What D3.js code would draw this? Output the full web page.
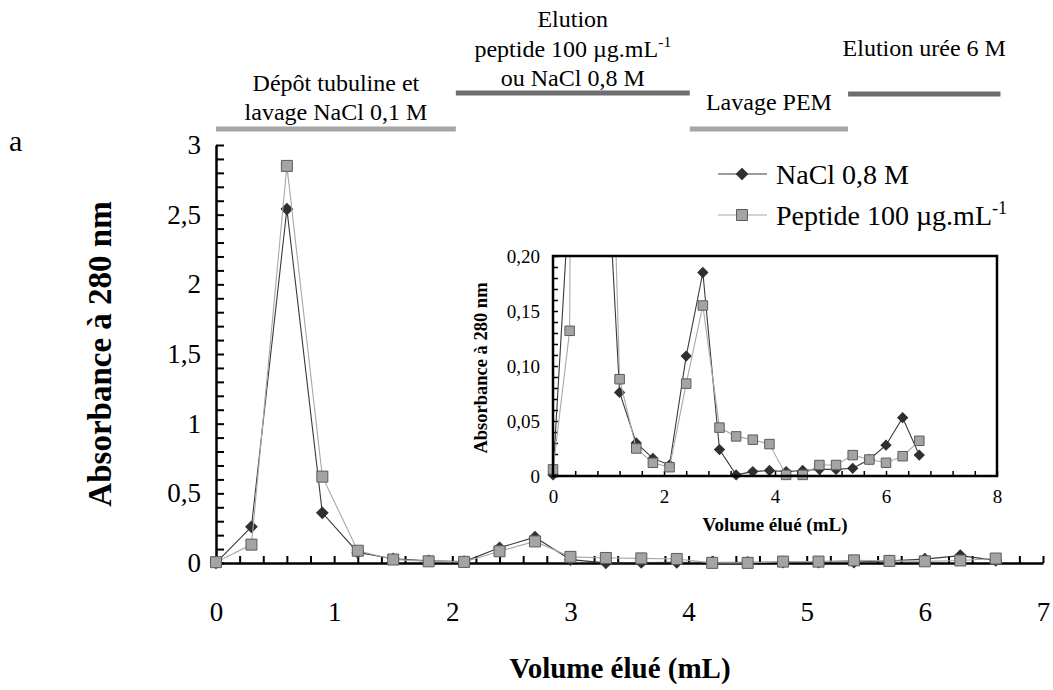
<!DOCTYPE html>
<html>
<head>
<meta charset="utf-8">
<script src="https://cdn.jsdelivr.net/npm/d3@7"></script>
<style>
  body { margin: 0; background: #fff; }
  text { font-family: "Liberation Serif", "Times New Roman", serif; fill: #000; }
</style>
</head>
<body>
<div id="chart"></div>
<script>
// Eluted volume of each fraction (mL)
const volumes = [0, 0.3, 0.6, 0.9, 1.2, 1.5, 1.8, 2.1, 2.4, 2.7, 3.0, 3.3,
  3.6, 3.9, 4.2, 4.5, 4.8, 5.1, 5.4, 5.7, 6.0, 6.3, 6.6];

// Absorbance at 280 nm for each fraction
const naclValues = [0.001, 0.26, 2.54, 0.36, 0.076, 0.030, 0.016, 0.010, 0.109,
  0.185, 0.024, 0.001, 0.004, 0.005, 0.004, 0.005, 0.006, 0.006, 0.007, 0.015,
  0.028, 0.053, 0.019];
const peptideValues = [0.006, 0.132, 2.85, 0.62, 0.088, 0.025, 0.012, 0.008,
  0.084, 0.155, 0.044, 0.036, 0.033, 0.029, 0.001, 0.001, 0.010, 0.010, 0.019,
  0.015, 0.012, 0.018, 0.032];

const seriesNames = ["NaCl 0,8 M", "Peptide 100 µg.mL^-1"];

// Axis tick labels
const mainXTicks = [0, 1, 2, 3, 4, 5, 6, 7];
const mainYTicks = [0, 0.5, 1, 1.5, 2, 2.5, 3];
const insetXTicks = [0, 2, 4, 6, 8];
const insetYTicks = [0, 0.05, 0.1, 0.15, 0.2];

// Protocol phases along the volume axis (mL) and their captions
const phaseBounds = [[0, 2.03], [2.03, 4.01], [4.01, 5.35], [5.35, 6.64]];
const phaseLabels = [
  ["Dépôt tubuline et", "lavage NaCl 0,1 M"],
  ["Elution", "peptide 100 µg.mL^-1", "ou NaCl 0,8 M"],
  ["Lavage PEM"],
  ["Elution urée 6 M"]
];

drawChart();

function drawChart() {
  let width = 1053, height = 690;
  let fontFamily = '"Liberation Serif", "Times New Roman", serif';

  let svg = d3
    .select("#chart")
    .append("svg")
    .attr("width", width)
    .attr("height", height);

  // Rows of data
  let nacl = volumes.map((v, i) => ({ x: v, y: naclValues[i] }));
  let peptide = volumes.map((v, i) => ({ x: v, y: peptideValues[i] }));

  // Writes a label, "^" starts a superscript
  function addText(sel, str, size) {
    let parts = str.split("^");
    sel.append("tspan").text(parts[0]);
    if (parts.length > 1) {
      sel
        .append("tspan")
        .attr("dy", -size * 0.38)
        .style("font-size", size * 0.65 + "px")
        .text(parts[1]);
    }
    return sel;
  }

  // ---------- main chart ----------
  let x = d3.scaleLinear().domain([0, 7]).range([216, 1043]);
  let y = d3.scaleLinear().domain([0, 3]).range([563, 145]);

  let xAxis = svg
    .append("g")
    .attr("transform", "translate(0," + y(0) + ")")
    .call(
      d3
        .axisBottom(x)
        .tickValues(d3.range(0, 36).map((i) => i / 5))
        .tickSize(-7)
        .tickSizeOuter(0)
        .tickPadding(39)
        .tickFormat((d) => (mainXTicks.includes(d) ? d : ""))
    );
  xAxis.select(".domain").attr("stroke-width", 2.5);
  xAxis.selectAll(".tick line").attr("stroke-width", 2);
  xAxis.selectAll("text").style("font-size", "27px").style("font-family", fontFamily);

  let yAxis = svg
    .append("g")
    .attr("transform", "translate(" + x(0) + ",0)")
    .call(
      d3
        .axisLeft(y)
        .tickValues(d3.range(0, 31).map((i) => i / 10))
        .tickSize(-8)
        .tickSizeOuter(0)
        .tickPadding(15)
        .tickFormat((d) =>
          mainYTicks.includes(d) ? String(d).replace(".", ",") : ""
        )
    );
  yAxis.select(".domain").attr("stroke-width", 2.5);
  yAxis.selectAll(".tick line").attr("stroke-width", 2);
  yAxis.selectAll("text").style("font-size", "27px").style("font-family", fontFamily);

  // Axis titles
  svg
    .append("text")
    .attr("x", 620)
    .attr("y", 678)
    .attr("text-anchor", "middle")
    .style("font-size", "29px")
    .style("font-weight", "bold")
    .text("Volume élué (mL)");

  svg
    .append("text")
    .attr("transform", "translate(111,354) rotate(-90)")
    .attr("text-anchor", "middle")
    .style("font-size", "33px")
    .style("font-weight", "bold")
    .text("Absorbance à 280 nm");

  svg
    .append("text")
    .attr("x", 9)
    .attr("y", 151)
    .style("font-size", "30px")
    .text("a");

  // Series lines and markers
  function drawSeries(g, data, sx, sy, kind, size) {
    let line = d3
      .line()
      .x((d) => sx(d.x))
      .y((d) => sy(d.y));
    g.append("path")
      .datum(data)
      .attr("fill", "none")
      .attr("stroke", kind == "diamond" ? "#3a3a3a" : "#a8a8a8")
      .attr("stroke-width", 1.1)
      .attr("d", line);
    let symbol = d3.symbol().type(d3.symbolSquare).size(size * size);
    g.selectAll("mark")
      .data(data)
      .enter()
      .append("path")
      .attr("d", symbol)
      .attr("transform", (d) =>
        "translate(" + sx(d.x) + "," + sy(d.y) + ")" + (kind == "diamond" ? " rotate(45)" : "")
      )
      .attr("fill", kind == "diamond" ? "#2f2f2f" : "#a4a4a4")
      .attr("stroke", kind == "diamond" ? "#2f2f2f" : "#5c5c5c")
      .attr("stroke-width", 1);
  }

  let mainMarks = svg.append("g");
  drawSeries(mainMarks, nacl, x, y, "diamond", 8);
  drawSeries(mainMarks, peptide, x, y, "square", 11);

  // Legend
  let legend = svg.append("g");
  seriesNames.forEach(function (name, i) {
    let ly = 174 + i * 41;
    legend
      .append("line")
      .attr("x1", 718)
      .attr("x2", 767)
      .attr("y1", ly)
      .attr("y2", ly)
      .attr("stroke", i == 0 ? "#3a3a3a" : "#a8a8a8")
      .attr("stroke-width", 1.2);
    drawSeries(
      legend,
      [{ x: 742, y: ly }],
      (v) => v,
      (v) => v,
      i == 0 ? "diamond" : "square",
      i == 0 ? 8 : 11
    );
    let t = legend
      .append("text")
      .attr("x", 776)
      .attr("y", ly + 10)
      .style("font-size", "28px");
    addText(t, name, 28);
  });

  // ---------- protocol phases ----------
  let barY = [129, 93, 129, 94];
  let labelBottom = [120, 86, 110, 56];
  let phases = svg.append("g");
  phaseBounds.forEach(function (b, i) {
    phases
      .append("line")
      .attr("x1", x(b[0]))
      .attr("x2", x(b[1]))
      .attr("y1", barY[i])
      .attr("y2", barY[i])
      .attr("stroke", barY[i] > 100 ? "#a6a6a6" : "#6e6e6e")
      .attr("stroke-width", 5);
    let lines = phaseLabels[i];
    lines.forEach(function (str, j) {
      let t = phases
        .append("text")
        .attr("x", (x(b[0]) + x(b[1])) / 2)
        .attr("y", labelBottom[i] - (lines.length - 1 - j) * 29.5)
        .attr("text-anchor", "middle")
        .style("font-size", "24px");
      addText(t, str, 24);
    });
  });

  // ---------- inset ----------
  let ix = d3.scaleLinear().domain([0, 8]).range([553, 997]);
  let iy = d3.scaleLinear().domain([0, 0.2]).range([476, 256]);

  let inset = svg.append("g");
  inset
    .append("rect")
    .attr("x", ix(0))
    .attr("y", iy(0.2))
    .attr("width", ix(8) - ix(0))
    .attr("height", iy(0) - iy(0.2))
    .attr("fill", "#fff");

  svg
    .append("clipPath")
    .attr("id", "insetClip")
    .append("rect")
    .attr("x", ix(0) - 8)
    .attr("y", iy(0.2))
    .attr("width", ix(8) - ix(0) + 8)
    .attr("height", iy(0) - iy(0.2) + 8);

  let ixAxis = inset
    .append("g")
    .attr("transform", "translate(0," + iy(0) + ")")
    .call(
      d3
        .axisBottom(ix)
        .tickValues(d3.range(0, 21).map((i) => (i * 2) / 5))
        .tickSize(-5)
        .tickSizeOuter(0)
        .tickPadding(14)
        .tickFormat((d) => (insetXTicks.includes(d) ? d : ""))
    );
  ixAxis.selectAll(".tick line").attr("stroke-width", 1.5);
  ixAxis.selectAll("text").style("font-size", "19px").style("font-family", fontFamily);

  let iyAxis = inset
    .append("g")
    .attr("transform", "translate(" + ix(0) + ",0)")
    .call(
      d3
        .axisLeft(iy)
        .tickValues(d3.range(0, 21).map((i) => i / 100))
        .tickSize(-5)
        .tickSizeOuter(0)
        .tickPadding(13)
        .tickFormat(function (d) {
          let hit = insetYTicks.find((t) => Math.abs(t - d) < 1e-9);
          if (hit === undefined) return "";
          return hit == 0 ? "0" : d3.format(".2f")(hit).replace(".", ",");
        })
    );
  iyAxis.selectAll(".tick line").attr("stroke-width", 1.5);
  iyAxis.selectAll("text").style("font-size", "19px").style("font-family", fontFamily);

  let insetMarks = inset.append("g").attr("clip-path", "url(#insetClip)");
  drawSeries(insetMarks, nacl, ix, iy, "diamond", 7);
  drawSeries(insetMarks, peptide, ix, iy, "square", 9.5);

  inset
    .append("rect")
    .attr("x", ix(0))
    .attr("y", iy(0.2))
    .attr("width", ix(8) - ix(0))
    .attr("height", iy(0) - iy(0.2))
    .attr("fill", "none")
    .attr("stroke", "#000")
    .attr("stroke-width", 2.5);

  inset
    .append("text")
    .attr("x", (ix(0) + ix(8)) / 2)
    .attr("y", 531)
    .attr("text-anchor", "middle")
    .style("font-size", "19px")
    .style("font-weight", "bold")
    .text("Volume élué (mL)");

  inset
    .append("text")
    .attr("transform", "translate(487,368) rotate(-90)")
    .attr("text-anchor", "middle")
    .style("font-size", "18.5px")
    .style("font-weight", "bold")
    .text("Absorbance à 280 nm");
}
</script>
</body>
</html>
